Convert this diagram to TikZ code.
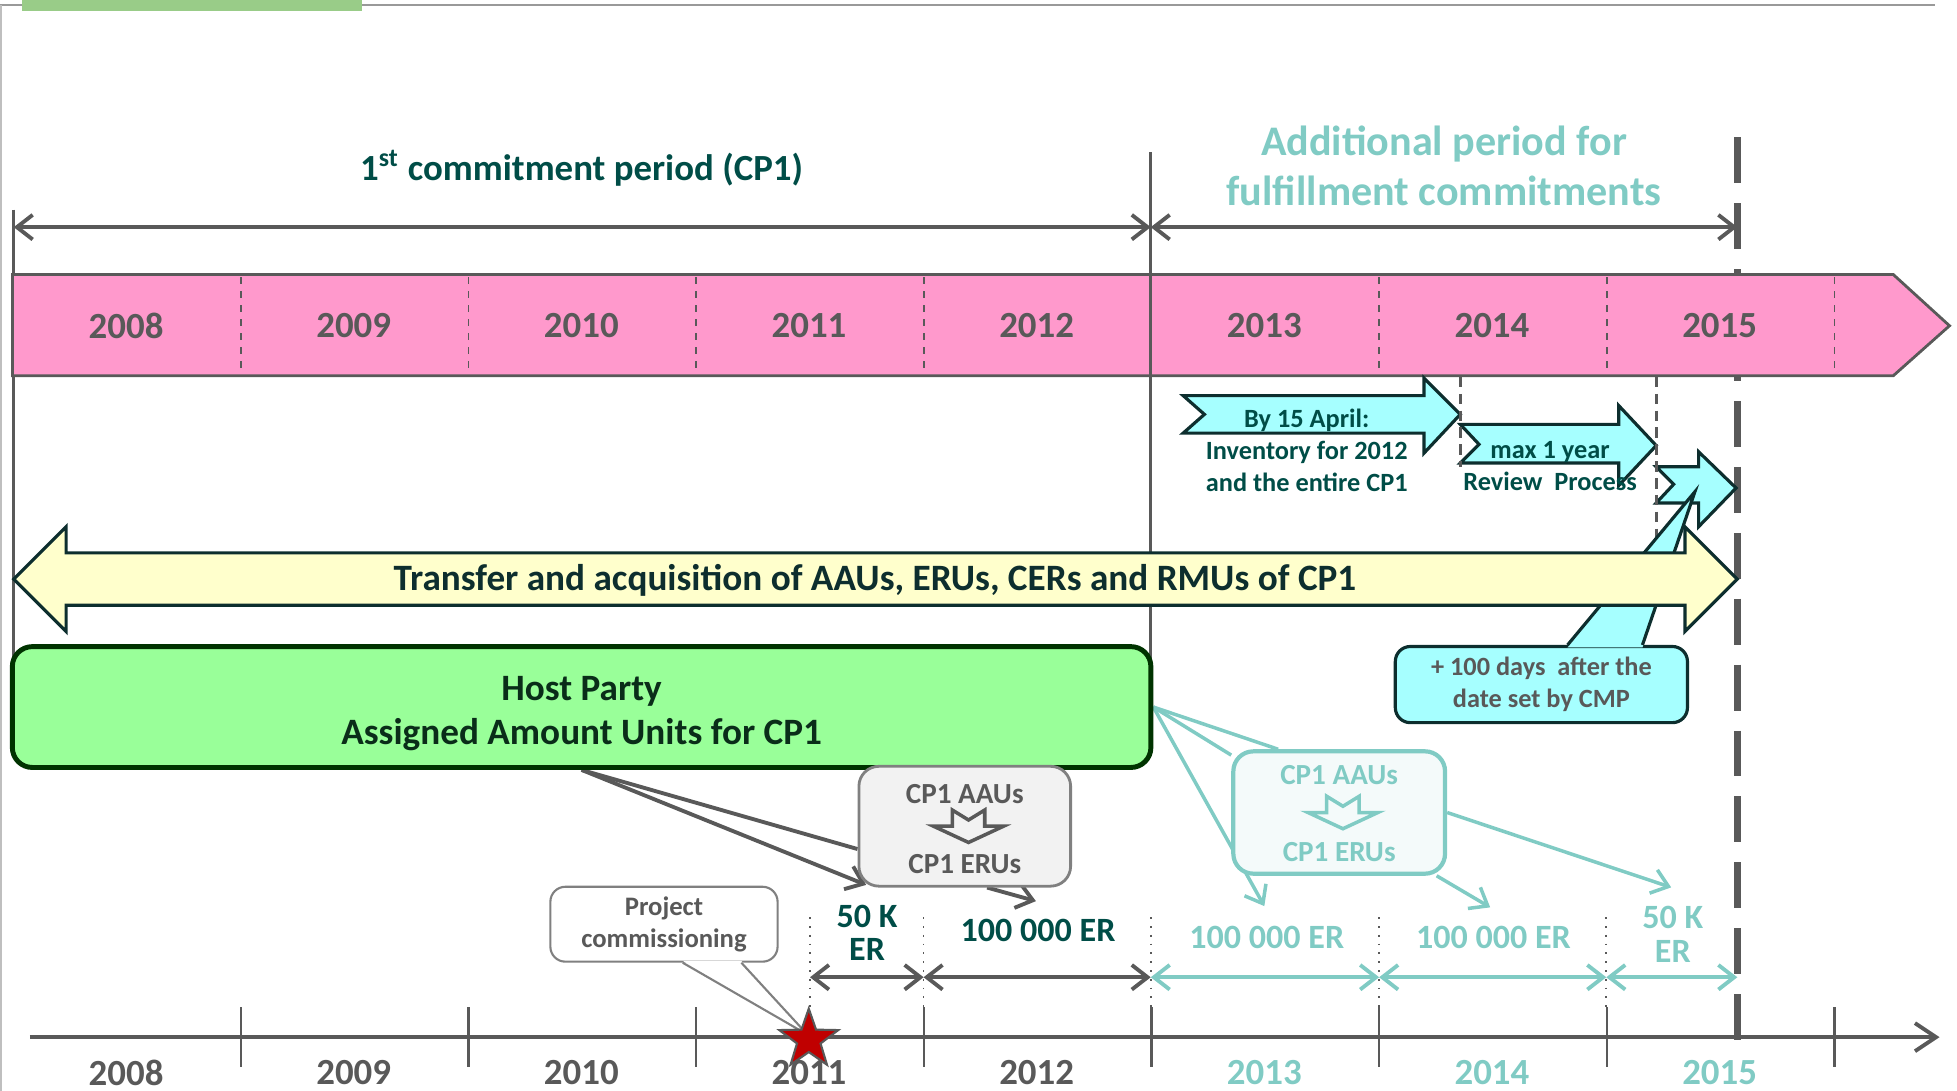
\documentclass[tikz,border=0pt]{standalone}
\usepackage{fontspec}
\setmainfont{Carlito}
\usetikzlibrary{arrows.meta,shapes.geometric,calc,backgrounds}
\definecolor{tgray}{RGB}{89,89,89}
\definecolor{tdark}{RGB}{0,77,71}
\definecolor{tlight}{RGB}{128,203,196}
\definecolor{bandpink}{RGB}{255,153,204}
\definecolor{cyanfill}{RGB}{166,255,255}
\definecolor{yellowfill}{RGB}{255,255,204}
\definecolor{hostfill}{RGB}{153,255,153}
\definecolor{hostline}{RGB}{0,51,0}
\definecolor{hosttext}{RGB}{10,45,25}
\definecolor{edgedark}{RGB}{13,46,46}
\definecolor{topgreen}{RGB}{153,204,136}
\definecolor{starred}{RGB}{192,0,0}
\definecolor{boxgray}{RGB}{242,242,242}
\definecolor{boxteal}{RGB}{244,250,250}
\begin{document}
\begin{tikzpicture}[x=0.0125cm, y=-0.0125cm, font=\bfseries,
	>={Straight Barb[length=4.5pt,width=7pt]},
	dim/.style={<->, line width=1.1pt},
	link/.style={line width=1.1pt},
	chevron/.style={fill=cyanfill, draw=edgedark, line width=0.9pt},
	txt/.style={inner sep=0pt, align=center},
	yearlabel/.style={txt, font=\fontsize{10.5}{12}\selectfont\bfseries},
	erlabel/.style={txt, font=\fontsize{9.7}{9.6}\selectfont\bfseries},
	smalltext/.style={txt, font=\fontsize{7.5}{9.1}\selectfont\bfseries},
	unitbox/.style={txt, rounded corners=0.2cm, minimum width=2.12cm, font=\fontsize{8.3}{10}\selectfont\bfseries}]
	\useasboundingbox (0,0) rectangle (1568,874);
	%frame
	\draw[gray!80, line width=0.8pt] (0,4) -- (1550,4);
	\fill[topgreen] (18,0) rectangle (290,9);
	\draw[gray!50, line width=0.5pt] (1,4) -- (1,874);
	%period limits
	\draw[tgray, line width=1.8pt, dash pattern=on 0.46cm off 0.2cm] (1392,110) -- (1392,837);
	\draw[tgray, line width=0.9pt] (11,168) -- (11,560);
	%year band
	\draw[fill=bandpink, draw=tgray, line width=0.8pt] (10,220) -- (1517,220) -- (1562,261) -- (1517,301) -- (10,301) -- cycle;
	\foreach \i in {0,...,7}
		\draw[tgray, line width=0.5pt, dash pattern=on 2pt off 2pt] (193+182.4*\i,222) -- (193+182.4*\i,299);
	\foreach \yr [count=\i from 0] in {2008,...,2015}
		\node[yearlabel, text=tgray] (band\yr) at (101+182.4*\i,261) {\yr};
	\draw[tgray, line width=0.9pt] (922,122) -- (922,560);
	%periods
	\draw[dim, tgray] (11,182) -- (922,182);
	\draw[dim, tgray] (922,182) -- (1392,182);
	\node[txt, text=tdark, font=\fontsize{10.5}{12}\selectfont\bfseries] (cpone) at (466,135) {1\textsuperscript{st} commitment period (CP1)};
	\node[txt, text=tlight, font=\fontsize{12}{14.2}\selectfont\bfseries] (addperiod) at (1157,133) {Additional period for\\fulfillment commitments};
	%review steps
	\draw[chevron] (948,317) -- (1141,317) -- (1141,303) -- (1170,332) -- (1141,363) -- (1141,347) -- (948,347) -- (965,332) -- cycle;
	\draw[chevron] (1170,340) -- (1297,340) -- (1297,325) -- (1327,357) -- (1297,389) -- (1297,371) -- (1170,371) -- (1185,356) -- cycle;
	\draw[chevron] (1327,374) -- (1361,374) -- (1361,362) -- (1391,391) -- (1361,422) -- (1361,403) -- (1327,403) -- (1341,388) -- cycle;
	\node[smalltext, text=tdark] (inventory) at (1047,361) {By 15 April:\\Inventory for 2012\\and the entire CP1};
	\node[smalltext, text=tdark] (review) at (1242,373.5) {max 1 year\\Review~ Process};
	\draw[tgray, line width=0.9pt, dash pattern=on 3pt off 1.8pt] (1170,302) -- (1170,374);
	\draw[tgray, line width=0.9pt, dash pattern=on 3pt off 1.8pt] (1327,302) -- (1327,433);
	%deadline callout
	\node[smalltext, text=tgray, rounded corners=0.15cm, fill=cyanfill, draw=edgedark, line width=0.9pt, minimum width=2.925cm, minimum height=0.7625cm] (daysbox) at (1235,548.5) {+ 100 days~ after the\\date set by CMP};
	\coordinate (daystip) at (1358,394);
	\fill[cyanfill] ($(daysbox.north)+(21,2)$) -- (daystip) -- ($(daysbox.north)+(81,2)$) -- cycle;
	\draw[edgedark, line width=0.9pt] ($(daysbox.north)+(21,0)$) -- (daystip) -- ($(daysbox.north)+(81,0)$);
	%trading window
	\draw[fill=yellowfill, draw=edgedark, line width=0.9pt] (11,464) -- (53,422) -- (53,443) -- (1350,443) -- (1350,422) -- (1392,464) -- (1350,506) -- (1350,485) -- (53,485) -- (53,506) -- cycle;
	\node[txt, text=edgedark, font=\fontsize{10.6}{12}\selectfont\bfseries] (transfer) at (701,465) {Transfer and acquisition of AAUs, ERUs, CERs and RMUs of CP1};
	%units
	\node[txt, rounded corners=0.2cm, fill=hostfill, draw=hostline, line width=1.4pt, minimum width=11.4cm, minimum height=1.21cm, text=hosttext, font=\fontsize{10.6}{12.6}\selectfont\bfseries] (hostparty) at (466,566.5) {\rule{0pt}{10.5pt}Host Party\\Assigned Amount Units for CP1};
	\node[unitbox, fill=boxgray, draw=gray, line width=0.8pt, minimum height=1.2cm, text=tgray] (cpgray) at (773,662) {\rule{0pt}{7.1pt}CP1 AAUs\\[9.8pt]CP1 ERUs};
	\node[unitbox, fill=boxteal, draw=tlight, line width=1.2pt, minimum height=1.225cm, text=tlight] (cpteal) at (1073,651) {\rule{0pt}{6.2pt}CP1 AAUs\\[12pt]CP1 ERUs};
	\foreach \ubox/\col in {cpgray/tgray, cpteal/tlight}
		\draw[\col, line width=1pt, shift={(\ubox.center)}] (-10,-13) -- (3,-5) -- (16,-13) -- (16,0) -- (31,0) -- (3,13) -- (-25,0) -- (-10,0) -- cycle;
	%allocation
	\coordinate (tofifty) at (694,709);
	\coordinate (tohundred) at (830,722);
	\coordinate (tothirteen) at (1013,726);
	\coordinate (tofourteen) at (1194,727);
	\coordinate (tofifteen) at (1339,711);
	\begin{scope}[on background layer]
		\draw[link, tgray] (hostparty.south) -- (cpgray.192);
		\draw[link, tgray, ->] (hostparty.south) -- (tofifty);
		\draw[link, tgray, ->] (cpgray.290) -- (tohundred);
		\draw[link, tlight, line width=1pt] (hostparty.east) -- (cpteal.134);
		\draw[link, tlight, line width=1pt] (hostparty.east) -- (cpteal.152);
		\draw[link, tlight, line width=1pt, ->] (hostparty.east) -- (tothirteen);
		\draw[link, tlight, line width=1pt, ->] (cpteal.327) -- (tofourteen);
		\draw[link, tlight, line width=1pt, ->] (cpteal.east) -- (tofifteen);
	\end{scope}
	%axis
	\draw[tgray, line width=1.1pt, -{Straight Barb[length=6pt,width=8pt]}] (24,831) -- (1554,831);
	%ticks
	\foreach \i in {0,...,7}
		\draw[tgray, line width=0.6pt] (193+182.4*\i,807) -- (193+182.4*\i,855);
	\foreach \x in {649,740,922,1105,1287}
		\draw[tgray, line width=0.5pt, dotted] (\x,735) -- (\x,807);
	\foreach \yr/\col [count=\i from 0] in {
		2008/tgray,
		2009/tgray,
		2010/tgray,
		2011/tgray,
		2012/tgray,
		2013/tlight,
		2014/tlight,
		2015/tlight}
		\node[yearlabel, text=\col] (axis\yr) at (101+182.4*\i,859.5) {\yr};
	%reductions
	\draw[dim, tgray] (649,783) -- (740,783);
	\draw[dim, tgray] (740,783) -- (922,783);
	\draw[dim, tlight] (922,783) -- (1105,783);
	\draw[dim, tlight] (1105,783) -- (1287,783);
	\draw[dim, tlight] (1287,783) -- (1392,783);
	\node[erlabel, text=tdark] (erfifty) at (694.7,747.5) {50 K\\ER};
	\node[erlabel, text=tdark] (ertwelve) at (831.7,745.7) {100 000 ER};
	\node[erlabel, text=tlight] (erthirteen) at (1015,751) {100 000 ER};
	\node[erlabel, text=tlight] (erfourteen) at (1196.6,751) {100 000 ER};
	\node[erlabel, text=tlight] (erfifteen) at (1340.3,748.6) {50 K\\ER};
	%commissioning
	\node[smalltext, text=tgray, rounded corners=0.15cm, draw=gray, fill=white, line width=0.6pt, minimum width=2.275cm, minimum height=0.75cm, font=\fontsize{7.6}{9.1}\selectfont\bfseries] (projectbox) at (532,740.5) {Project\\commissioning};
	\coordinate (startip) at (647,829);
	\fill[white] ($(projectbox.south)+(15,-1.5)$) -- (startip) -- ($(projectbox.south)+(62,-1.5)$) -- cycle;
	\draw[gray, line width=0.6pt] ($(projectbox.south)+(15,0)$) -- (startip) -- ($(projectbox.south)+(62,0)$);
	\node[star, star points=5, star point ratio=2.5, minimum size=0.62cm, inner sep=0pt, fill=starred, draw=tgray, line width=0.6pt] (commission) at ($(startip)+(1,4)$) {};
\end{tikzpicture}
\end{document}
